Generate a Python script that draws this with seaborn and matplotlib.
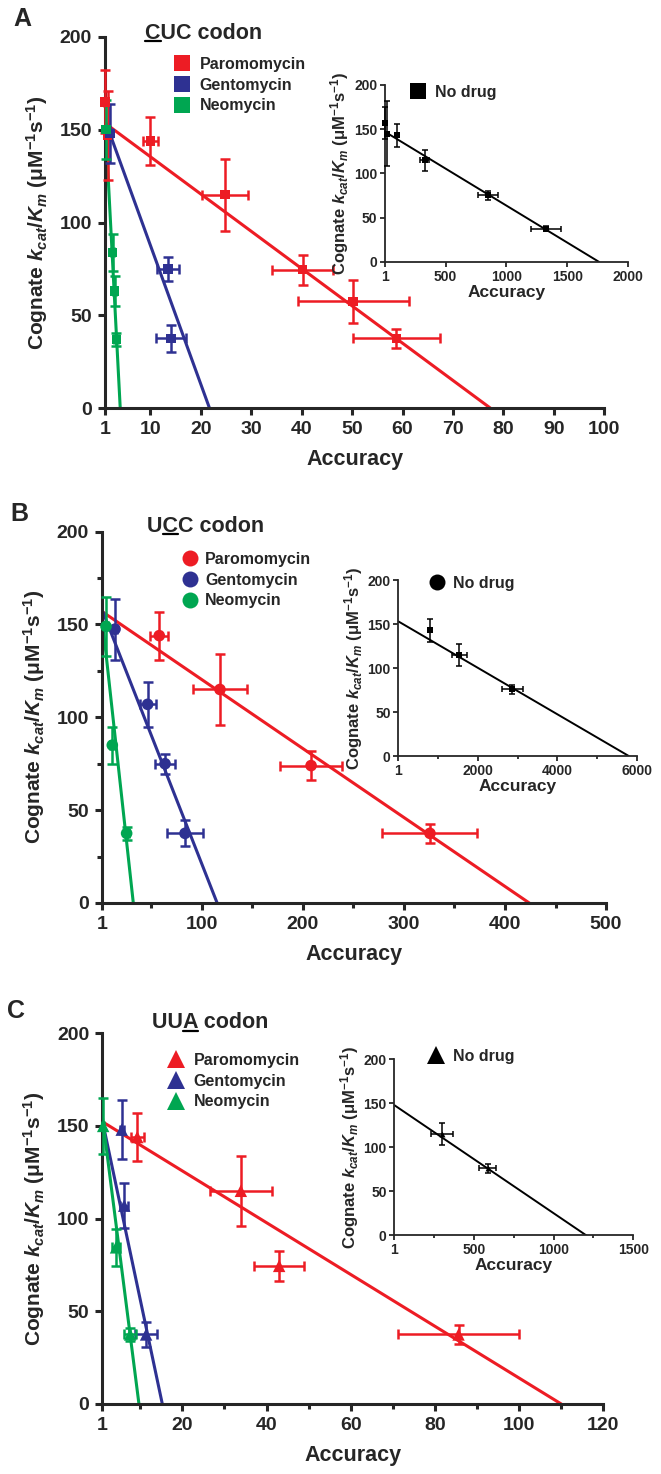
import numpy as np
import pandas as pd
import matplotlib
matplotlib.use('Agg')
import matplotlib.pyplot as plt
import seaborn as sns
from matplotlib.lines import Line2D
from matplotlib.ticker import FixedLocator

drugs = ['Paromomycin', 'Gentomycin', 'Neomycin']
drug_colors = ['#ED1C24', '#2E3192', '#00A651']

# A: CUC codon
cuc_drug = ['Paromomycin'] * 7 + ['Gentomycin'] * 3 + ['Neomycin'] * 4
cuc_acc = [1.0, 1.5, 10, 24.8, 40.2, 50.2, 58.8, 2.0, 13.5, 14.1, 1.2, 2.5, 2.9, 3.2]
cuc_kcat = [165, 147, 144, 115, 74.5, 57.5, 37.5, 148, 75, 37.5, 150, 84, 63, 37]
cuc_acc_err = [0.3, 0.3, 1.5, 4.5, 6, 11, 8.7, 0.4, 2.2, 3, 0.2, 0.3, 0.3, 0.4]
cuc_kcat_err = [17, 24, 13, 19.5, 8, 11.5, 5, 16, 6.5, 7.5, 16, 10, 8, 3.5]
cuc_fit_start = [153.5, 155, 156]   # kcat/Km of the fit at accuracy 1
cuc_fit_end = [77.4, 21.7, 4.0]     # accuracy where the fit reaches 0

cuc_nd_acc = [1, 15, 101, 328, 847, 1325]
cuc_nd_kcat = [157, 145, 143, 115, 75.5, 37.5]
cuc_nd_acc_err = [0, 0, 15, 38, 82, 123]
cuc_nd_kcat_err = [18, 37, 13, 12, 5, 3]
cuc_nd_fit = [147, 1762]

# B: UCC codon
ucc_drug = ['Paromomycin'] * 4 + ['Gentomycin'] * 4 + ['Neomycin'] * 3
ucc_acc = [57.7, 117.8, 208, 325.7, 13.9, 46.2, 63.4, 83.2, 5, 11.2, 25.4]
ucc_kcat = [144, 115, 74, 37.5, 147.5, 107, 75, 37.5, 149, 85, 37.5]
ucc_acc_err = [9, 26.5, 31, 47, 2, 8, 10, 17.5, 1.5, 2.5, 2]
ucc_kcat_err = [13, 19, 8, 5, 16.5, 12, 5.5, 7, 16, 10, 3.5]
ucc_fit_start = [157, 158, 154]
ucc_fit_end = [424, 115, 32]

ucc_nd_acc = [797, 1535, 2868]
ucc_nd_kcat = [143, 115, 76]
ucc_nd_acc_err = [30, 190, 270]
ucc_nd_kcat_err = [13, 12.5, 5]
ucc_nd_fit = [153, 5800]

# C: UUA codon
uua_drug = ['Paromomycin'] * 4 + ['Gentomycin'] * 3 + ['Neomycin'] * 3
uua_acc = [9.3, 33.9, 43, 85.6, 5.6, 6.2, 11.4, 1.2, 4.25, 7.6]
uua_kcat = [144, 115, 74.5, 37.5, 148, 107, 37.5, 150, 84.5, 37.5]
uua_acc_err = [1.5, 7.3, 6, 14.3, 0.5, 1, 2.6, 0.3, 1, 1.5]
uua_kcat_err = [13, 19, 8, 5, 16, 12, 7, 15, 10, 3.5]
uua_fit_start = [152.3, 153, 155]
uua_fit_end = [110, 15.25, 9.7]

uua_nd_acc = [302, 587]
uua_nd_kcat = [115, 76]
uua_nd_acc_err = [68, 52]
uua_nd_kcat_err = [12.5, 5]
uua_nd_fit = [148, 1205]

sns.set_style('ticks')
plt.rcParams['font.family'] = ['Liberation Sans', 'DejaVu Sans']
plt.rcParams['font.weight'] = 'bold'
plt.rcParams['axes.labelweight'] = 'bold'
plt.rcParams['mathtext.fontset'] = 'custom'
plt.rcParams['mathtext.rm'] = 'Liberation Sans:bold'
plt.rcParams['mathtext.bf'] = 'Liberation Sans:bold'
plt.rcParams['mathtext.it'] = 'Liberation Sans:italic:bold'

YLABEL = 'Cognate $k_{cat}/K_m$ (μM$^{-1}$s$^{-1}$)'
palette = dict(zip(drugs, drug_colors))

fig = plt.figure(figsize=(6.61, 14.74), dpi=100)


def style_axes(ax, lw, fs, ticklen, pad):
    sns.despine(ax=ax)
    for s in ['left', 'bottom']:
        ax.spines[s].set_linewidth(lw)
    ax.tick_params(which='major', width=lw, length=ticklen, labelsize=fs, pad=pad)
    ax.tick_params(which='minor', width=lw, length=ticklen * 0.7)


def draw_main(rect, drug, acc, kcat, acc_err, kcat_err, fit_start, fit_end, marker, msize, xmax, xticks):
    ax = fig.add_axes(rect)
    df = pd.DataFrame({'drug': drug, 'acc': acc, 'kcat': kcat,
                       'acc_err': acc_err, 'kcat_err': kcat_err})
    fit = pd.DataFrame({'drug': np.repeat(drugs, 2),
                        'acc': np.ravel([[1, e] for e in fit_end]),
                        'kcat': np.ravel([[s, 0] for s in fit_start])})
    sns.lineplot(data=fit, x='acc', y='kcat', hue='drug', palette=palette,
                 linewidth=2.2, legend=False, ax=ax, zorder=2)
    for d in drugs:
        sub = df[df.drug == d]
        ax.errorbar(sub.acc, sub.kcat, xerr=sub.acc_err, yerr=sub.kcat_err, fmt='none',
                    ecolor=palette[d], elinewidth=1.8, capsize=3.5, capthick=1.8,
                    zorder=3, clip_on=False)
    sns.scatterplot(data=df, x='acc', y='kcat', hue='drug', palette=palette,
                    marker=marker, s=msize, linewidth=0, legend=False, ax=ax,
                    zorder=4, clip_on=False)
    ax.set_xlim(1, xmax)
    ax.set_ylim(0, 200)
    ax.set_xticks(xticks)
    ax.set_yticks([0, 50, 100, 150, 200])
    style_axes(ax, 2.2, 14, 5, 4.5)
    ax.set_xlabel('Accuracy', fontsize=15.5, labelpad=8)
    ax.set_ylabel(YLABEL, fontsize=15, labelpad=7)
    return ax


def draw_inset(rect, acc, kcat, acc_err, kcat_err, fit, marker, msize, xmax, xticks):
    ax = fig.add_axes(rect)
    df = pd.DataFrame({'acc': acc, 'kcat': kcat})
    line = pd.DataFrame({'acc': [1, fit[1]], 'kcat': [fit[0], 0]})
    sns.lineplot(data=line, x='acc', y='kcat', color='black', linewidth=1.4, ax=ax, zorder=2)
    ax.errorbar(acc, kcat, xerr=acc_err, yerr=kcat_err, fmt='none', ecolor='black',
                elinewidth=1.1, capsize=2, capthick=1.1, zorder=3, clip_on=False)
    sns.scatterplot(data=df, x='acc', y='kcat', color='black', marker=marker, s=msize,
                    linewidth=0, ax=ax, zorder=4, clip_on=False)
    ax.set_xlim(1, xmax)
    ax.set_ylim(0, 200)
    ax.set_xticks(xticks)
    ax.set_yticks([0, 50, 100, 150, 200])
    style_axes(ax, 1.3, 10, 3.5, 2)
    ax.set_xlabel('Accuracy', fontsize=12.5, labelpad=1)
    ax.set_ylabel(YLABEL, fontsize=12, labelpad=2)
    return ax


def add_legend(ax, labels, colors, marker, msize, anchor, textpad=0.55):
    handles = [Line2D([], [], linestyle='none', marker=marker, color=c, markersize=msize,
                      markeredgewidth=0) for c in colors]
    ax.legend(handles, labels, loc='upper left', bbox_to_anchor=anchor,
              bbox_transform=fig.transFigure, frameon=False, fontsize=11.5,
              handlelength=1.0, handletextpad=textpad, labelspacing=0.35, borderpad=0,
              borderaxespad=0)


# panel A
axA = draw_main([0.159, 0.7232, 0.755, 0.2517], cuc_drug, cuc_acc, cuc_kcat, cuc_acc_err,
                cuc_kcat_err, cuc_fit_start, cuc_fit_end, 's', 45, 100,
                [1, 10, 20, 30, 40, 50, 60, 70, 80, 90, 100])
add_legend(axA, drugs, drug_colors, 's', 11.5, (0.263, 0.9613), 0.6)
insA = draw_inset([0.5825, 0.8223, 0.3676, 0.1201], cuc_nd_acc, cuc_nd_kcat, cuc_nd_acc_err,
                  cuc_nd_kcat_err, cuc_nd_fit, 's', 14, 2000, [1, 500, 1000, 1500, 2000])
add_legend(insA, ['No drug'], ['black'], 's', 11.5, (0.6203, 0.9423))

# panel B
axB = draw_main([0.1543, 0.3874, 0.7625, 0.2519], ucc_drug, ucc_acc, ucc_kcat, ucc_acc_err,
                ucc_kcat_err, ucc_fit_start, ucc_fit_end, 'o', 70, 500,
                [1, 100, 200, 300, 400, 500])
axB.xaxis.set_minor_locator(FixedLocator([50, 150, 250, 350, 450]))
axB.yaxis.set_minor_locator(FixedLocator([25, 75, 125, 175]))
add_legend(axB, drugs, drug_colors, 'o', 11.5, (0.2753, 0.6255), 0.45)
insB = draw_inset([0.6026, 0.4871, 0.3607, 0.1194], ucc_nd_acc, ucc_nd_kcat, ucc_nd_acc_err,
                  ucc_nd_kcat_err, ucc_nd_fit, 's', 14, 6000, [1, 2000, 4000, 6000])
insB.xaxis.set_minor_locator(FixedLocator([1000, 3000, 5000]))
add_legend(insB, ['No drug'], ['black'], 'o', 11.5, (0.6486, 0.6092))

# panel C
axC = draw_main([0.1548, 0.0475, 0.758, 0.2515], uua_drug, uua_acc, uua_kcat, uua_acc_err,
                uua_kcat_err, uua_fit_start, uua_fit_end, '^', 80, 120,
                [1, 20, 40, 60, 80, 100, 120])
axC.xaxis.set_minor_locator(FixedLocator([10, 30, 50, 70, 90, 110]))
add_legend(axC, drugs, drug_colors, '^', 13, (0.2542, 0.2856), 0.6)
insC = draw_inset([0.5965, 0.1619, 0.3616, 0.1194], uua_nd_acc, uua_nd_kcat, uua_nd_acc_err,
                  uua_nd_kcat_err, uua_nd_fit, '^', 18, 1500, [1, 500, 1000, 1500])
insC.xaxis.set_minor_locator(FixedLocator([250, 750, 1250]))
add_legend(insC, ['No drug'], ['black'], '^', 13, (0.6475, 0.2883))

# panel letters and codon titles
for letter, pos in [('A', (0.034, 0.9874)), ('B', (0.0287, 0.6516)), ('C', (0.0242, 0.3138))]:
    fig.text(pos[0], pos[1], letter, fontsize=18, fontweight='bold', ha='center', va='center')

titles = []
for text, idx, pos in [('CUC codon', 0, (0.3086, 0.9776)),
                       ('UCC codon', 1, (0.3116, 0.6431)),
                       ('UUA codon', 2, (0.3177, 0.306))]:
    t = fig.text(pos[0], pos[1], text, fontsize=15.5, fontweight='bold', ha='center', va='center')
    titles.append((t, idx))

fig.canvas.draw()
renderer = fig.canvas.get_renderer()
inv = fig.transFigure.inverted()
for t, idx in titles:
    bb = t.get_window_extent(renderer)
    prop = t.get_fontproperties()
    s = t.get_text()
    w0 = renderer.get_text_width_height_descent(s[:idx], prop, False)[0] if idx else 0
    w1 = renderer.get_text_width_height_descent(s[:idx + 1], prop, False)[0]
    d = renderer.get_text_width_height_descent('lp', prop, False)[2]
    x0, y0 = inv.transform((bb.x0 + w0, bb.y0 + d * 0.45))
    x1, _ = inv.transform((bb.x0 + w1, bb.y0 + d * 0.45))
    fig.add_artist(Line2D([x0, x1], [y0, y0], color='black', lw=1.6, transform=fig.transFigure))

fig.savefig('out.png', dpi=100)
